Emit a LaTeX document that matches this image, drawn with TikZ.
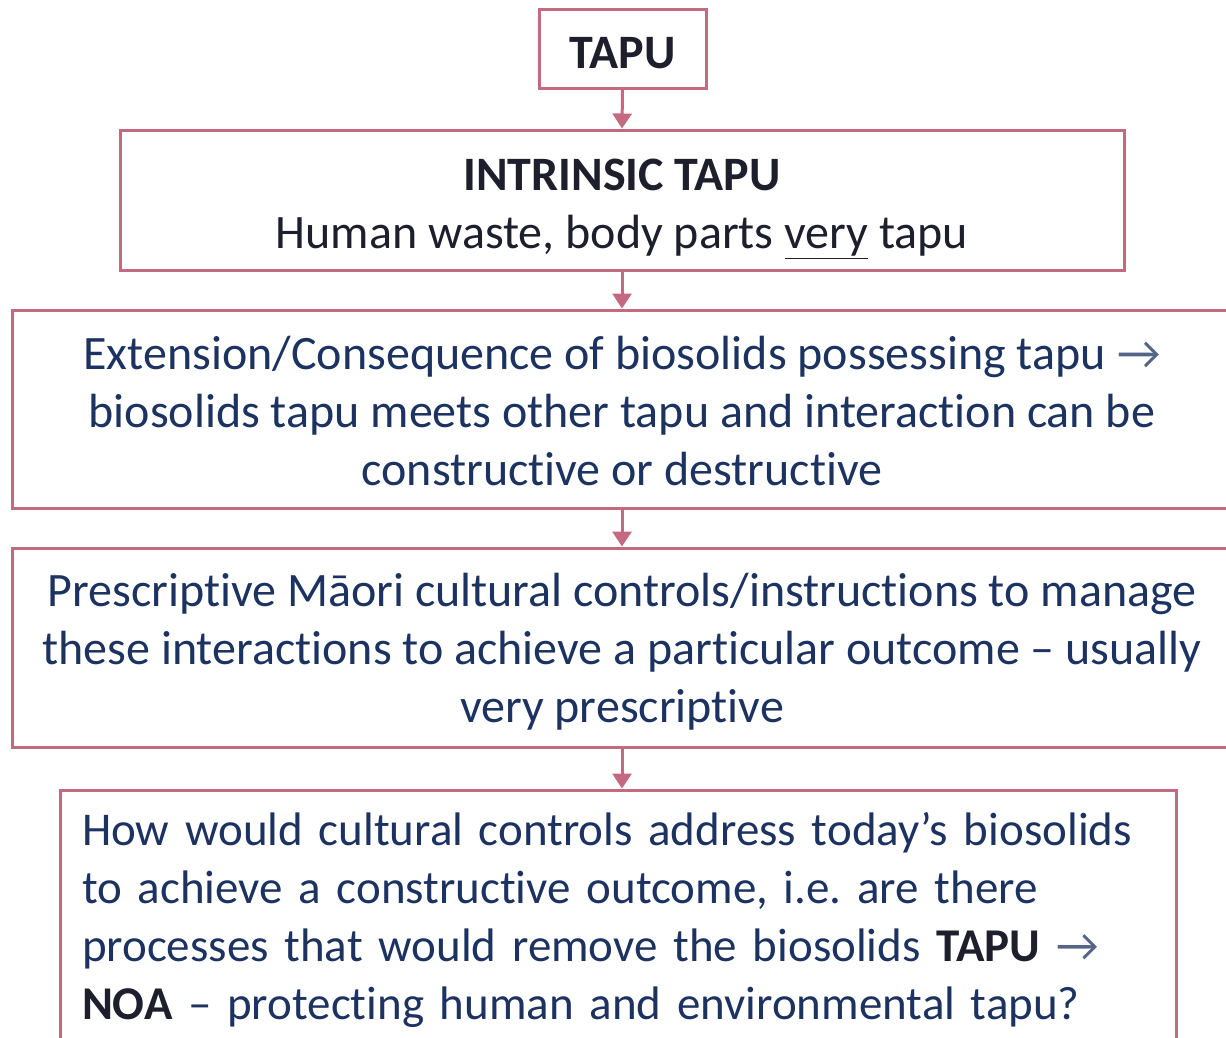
\documentclass[tikz,border=0pt]{standalone}
\usepackage{fontspec}
\setmainfont{Carlito}[Ligatures=NoCommon]
\usetikzlibrary{arrows.meta,positioning}
\definecolor{rose}{HTML}{C46A80}
\definecolor{navy}{HTML}{1C3260}
\definecolor{ink}{HTML}{1E1E2C}
\newcommand{\ra}{{\color{navy!75}→}}
% lines dropped a little inside their box
\newcommand{\drop}[2]{\raisebox{-#1}[\height][\depth]{\begin{tabular}{@{}c@{}}#2\end{tabular}}}
\frenchspacing

\begin{document}
\begin{tikzpicture}[x=1pt,y=-1pt,
    box/.style={draw=rose,line width=3pt,text=navy,inner sep=0pt,
      font=\fontsize{48}{58}\selectfont},
    flow/.style={rose,line width=3pt,-{Triangle[width=19pt,length=15pt]}}]
  \useasboundingbox (0,0) rectangle (1226,1037);
  \clip (0,0) rectangle (1226,1037);

  \node[box,minimum width=167,minimum height=79,text=ink,font=\fontsize{48}{58}\selectfont\bfseries]
    (tapu) at (622.5,48.5) {\drop{8pt}{TAPU}};
  \node[box,minimum width=1004,minimum height=140,text=ink]
    (intr) at (622,200) {\drop{8pt}{\textbf{INTRINSIC TAPU}\\Human waste, body parts \underline{very} tapu}};
  \node[box,minimum width=1220,minimum height=198]
    (ext) at (622,409) {\drop{7pt}{Extension/Consequence of biosolids possessing tapu \ra\\
      biosolids tapu meets other tapu and interaction can be\\
      constructive or destructive}};
  \node[box,minimum width=1220,minimum height=199]
    (pres) at (622,647.5) {\drop{5pt}{Prescriptive Māori cultural controls/instructions to manage\\
      these interactions to achieve a particular outcome – usually\\
      very prescriptive}};
  \node[box,minimum width=1116,minimum height=260,text width=1072,align=left,
      font=\fontsize{47}{58}\selectfont]
    (how) at (618,920) {How would cultural controls address today’s biosolids\\
      to achieve a constructive outcome, i.e. are there\\
      processes that would remove the biosolids {\color{ink}\bfseries TAPU} \ra\\
      {\color{ink}\bfseries NOA} – protecting human and environmental tapu?};

  % arrows between the boxes
  \draw[flow] (tapu.south) -- (intr.north);
  \draw[flow] (intr.south) -- (intr.south |- ext.north);
  \draw[flow] (ext.south) -- (ext.south |- pres.north);
  \draw[flow] (pres.south) -- (pres.south |- how.north);
\end{tikzpicture}
\end{document}
